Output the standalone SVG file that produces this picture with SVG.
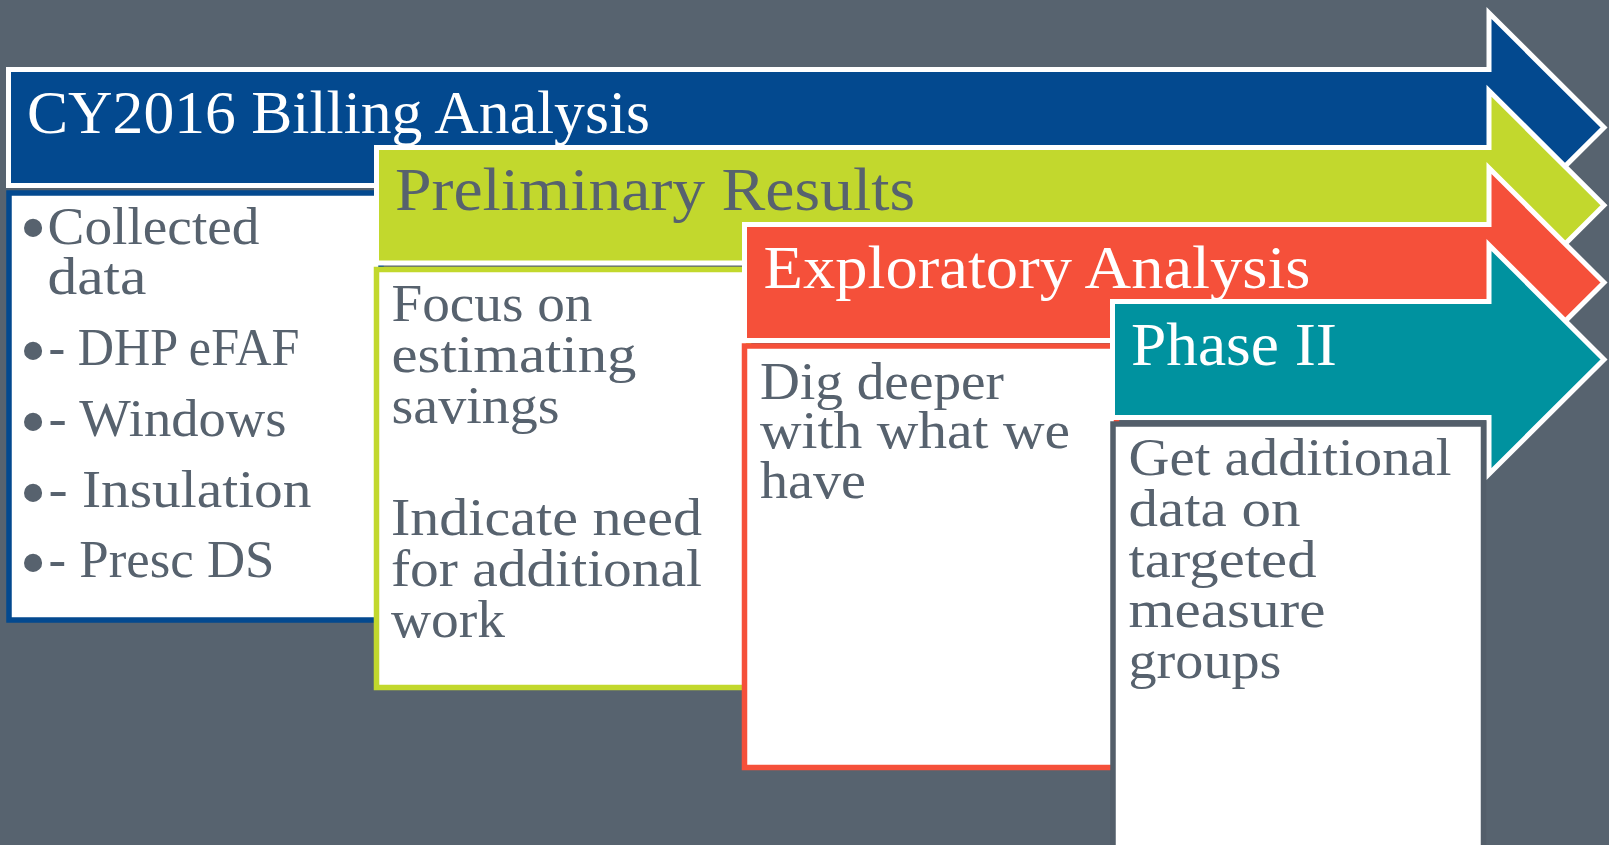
<svg xmlns="http://www.w3.org/2000/svg" width="1609" height="845" viewBox="0 0 1609 845">
<style>
.bg{fill:#57636f}
.arrow{stroke:#ffffff;stroke-width:5;stroke-linejoin:miter;stroke-miterlimit:10}
.box{fill:#ffffff;stroke-width:5.5}
.title{font-family:"Liberation Serif","Times New Roman",serif;font-size:61px}
.body{font-family:"Liberation Serif","Times New Roman",serif;font-size:52px;fill:#57626e}
.bul{font-family:"Liberation Serif","Times New Roman",serif;font-size:76px;fill:#57626e}
</style>
<rect class="bg" x="0" y="0" width="1609" height="845"/>

<g id="phase-billing">
<path class="arrow" fill="#03498f" d="M8.5,69.5 H1489 V13 L1604,127.5 L1489,242 V185.5 H8.5 Z"/>
<text class="title" fill="#ffffff" x="27" y="132.7" textLength="623" lengthAdjust="spacingAndGlyphs">CY2016 Billing Analysis</text>
<rect class="box" stroke="#03498f" x="9" y="193" width="372" height="427"/>
<text class="bul" x="19.7" y="252.7">•</text>
<text class="body" x="47.5" y="244.3" textLength="212" lengthAdjust="spacingAndGlyphs">Collected</text>
<text class="body" x="47.5" y="294.3" textLength="99" lengthAdjust="spacingAndGlyphs">data</text>
<text class="bul" x="19.7" y="375.8">•</text>
<text class="body" x="48.5" y="365" textLength="251" lengthAdjust="spacingAndGlyphs">- DHP eFAF</text>
<text class="bul" x="19.7" y="446.8">•</text>
<text class="body" x="48.5" y="436" textLength="238" lengthAdjust="spacingAndGlyphs">- Windows</text>
<text class="bul" x="19.7" y="517.7">•</text>
<text class="body" x="48.5" y="506.5" textLength="263" lengthAdjust="spacingAndGlyphs">- Insulation</text>
<text class="bul" x="19.7" y="588.3">•</text>
<text class="body" x="48.5" y="577" textLength="226" lengthAdjust="spacingAndGlyphs">- Presc DS</text>
</g>

<g id="phase-preliminary">
<path class="arrow" fill="#c2d82d" d="M376.5,147.5 H1489 V90.75 L1604,205.25 L1489,319.75 V263 H376.5 Z"/>
<text class="title" fill="#57626e" x="395" y="210" textLength="520" lengthAdjust="spacingAndGlyphs">Preliminary Results</text>
<rect class="box" stroke="#c2d82d" x="376.5" y="269.5" width="372" height="418"/>
<text class="body" x="391.5" y="321" textLength="201" lengthAdjust="spacingAndGlyphs">Focus on</text>
<text class="body" x="391.5" y="371.7" textLength="245" lengthAdjust="spacingAndGlyphs">estimating</text>
<text class="body" x="391.5" y="422.5" textLength="168" lengthAdjust="spacingAndGlyphs">savings</text>
<text class="body" x="391" y="535" textLength="311" lengthAdjust="spacingAndGlyphs">Indicate need</text>
<text class="body" x="391" y="586" textLength="311" lengthAdjust="spacingAndGlyphs">for additional</text>
<text class="body" x="391" y="636.7" textLength="114" lengthAdjust="spacingAndGlyphs">work</text>
</g>

<g id="phase-exploratory">
<path class="arrow" fill="#f5503a" d="M744.5,224.5 H1489 V168 L1604,282.5 L1489,397 V340.5 H744.5 Z"/>
<text class="title" fill="#ffffff" x="763.5" y="288.3" textLength="547" lengthAdjust="spacingAndGlyphs">Exploratory Analysis</text>
<rect class="box" stroke="#f5503a" x="744.5" y="346" width="372" height="421.5"/>
<text class="body" x="760" y="399.3" textLength="244" lengthAdjust="spacingAndGlyphs">Dig deeper</text>
<text class="body" x="760" y="448.3" textLength="310" lengthAdjust="spacingAndGlyphs">with what we</text>
<text class="body" x="760" y="498.3" textLength="106" lengthAdjust="spacingAndGlyphs">have</text>
</g>

<g id="phase-two">
<path class="arrow" fill="#00929f" d="M1112.5,301.5 H1489 V245 L1604,359.5 L1489,474 V417.5 H1112.5 Z"/>
<text class="title" fill="#ffffff" x="1131" y="365" textLength="206" lengthAdjust="spacingAndGlyphs">Phase II</text>
<rect class="box" stroke="#535e6a" x="1113" y="424" width="370.5" height="432"/>
<text class="body" x="1128.5" y="475" textLength="323" lengthAdjust="spacingAndGlyphs">Get additional</text>
<text class="body" x="1128.5" y="526" textLength="172" lengthAdjust="spacingAndGlyphs">data on</text>
<text class="body" x="1128.5" y="576.7" textLength="188" lengthAdjust="spacingAndGlyphs">targeted</text>
<text class="body" x="1128.5" y="627.3" textLength="197" lengthAdjust="spacingAndGlyphs">measure</text>
<text class="body" x="1128.5" y="678.3" textLength="153" lengthAdjust="spacingAndGlyphs">groups</text>
</g>

<g id="connectors"></g>
</svg>
